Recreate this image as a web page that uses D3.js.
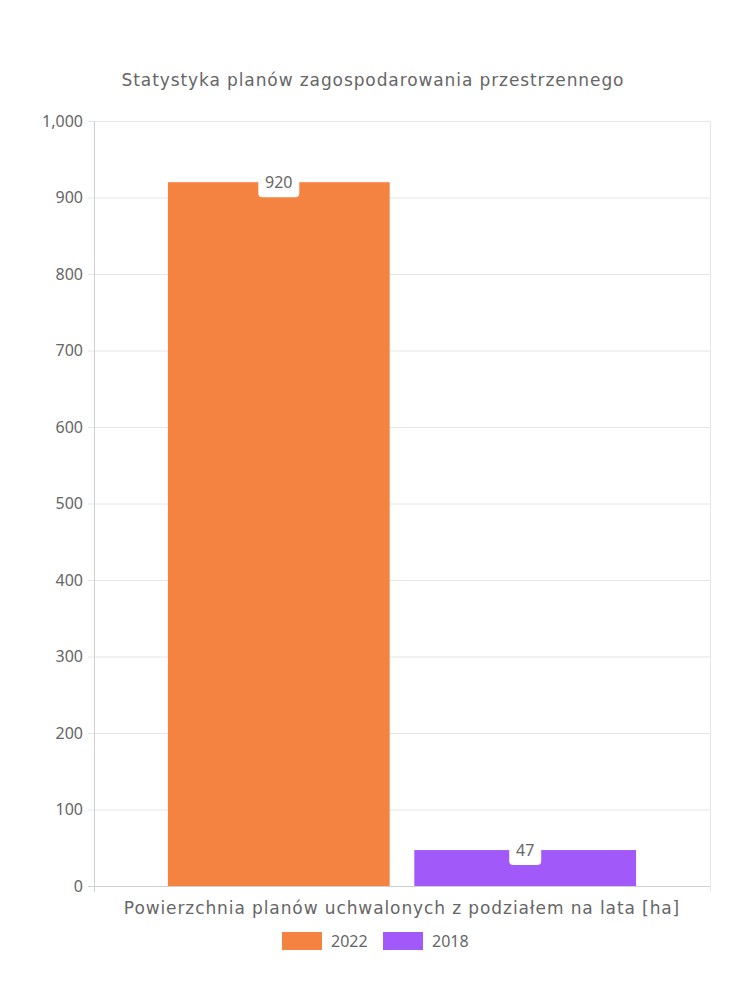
<!DOCTYPE html>
<html>
<head>
<meta charset="utf-8">
<script src="https://cdn.jsdelivr.net/npm/d3@7"></script>
<style>
  body { margin: 0; background: #fff; }
  text { font-family: "Noto Sans", sans-serif; fill: #666; }
  .wide { font-family: "DejaVu Sans", sans-serif; letter-spacing: 0.9px; }
</style>
</head>
<body>
<svg id="chart"></svg>
<script>
// chart data
const category = "Powierzchnia planów uchwalonych z podziałem na lata [ha]";
const seriesNames = ["2022", "2018"];
const seriesValues = [920, 47];
const seriesColors = ["#f48342", "#a259fa"];
const yTicks = [0, 100, 200, 300, 400, 500, 600, 700, 800, 900, 1000];

const width = 750, height = 1000;
const margin = { top: 121, right: 40, bottom: 114, left: 94 };

const svg = d3.select("#chart").attr("width", width).attr("height", height);

const x = d3.scaleBand()
  .domain([category])
  .range([margin.left, width - margin.right])
  .paddingInner(0).paddingOuter(0);

// grouped bars inside the category (80% category, 90% bar)
const inner = d3.scaleBand()
  .domain(seriesNames)
  .range([x(category) + x.bandwidth() * 0.1, x(category) + x.bandwidth() * 0.9])
  .paddingInner(0.1).paddingOuter(0.05);

const y = d3.scaleLinear().domain([0, 1000]).range([height - margin.bottom, margin.top]);

// grid
svg.append("g")
  .selectAll("line")
  .data(yTicks)
  .join("line")
  .attr("x1", margin.left - 6)
  .attr("x2", width - margin.right)
  .attr("y1", d => y(d) + 0.5)
  .attr("y2", d => y(d) + 0.5)
  .attr("stroke", "#e6e6e6");

svg.append("line")
  .attr("x1", width - margin.right + 0.5).attr("x2", width - margin.right + 0.5)
  .attr("y1", margin.top).attr("y2", height - margin.bottom + 6)
  .attr("stroke", "#e6e6e6");

// y axis
const yAxis = svg.append("g")
  .attr("transform", `translate(${margin.left},0)`)
  .call(d3.axisLeft(y).tickValues(yTicks).tickSize(6).tickFormat(d3.format(",")));
yAxis.select(".domain").remove();
yAxis.selectAll(".tick line").remove();
yAxis.selectAll(".tick text").attr("x", -11).attr("font-size", 16).style("fill", "#666");

svg.append("line")
  .attr("x1", margin.left + 0.5).attr("x2", margin.left + 0.5)
  .attr("y1", margin.top).attr("y2", height - margin.bottom + 6)
  .attr("stroke", "#cfcfcf");
svg.append("line")
  .attr("x1", margin.left - 6).attr("x2", width - margin.right)
  .attr("y1", y(0) + 0.5).attr("y2", y(0) + 0.5)
  .attr("stroke", "#cfcfcf");

// bars
const data = seriesNames.map((n, i) => ({ name: n, value: seriesValues[i], color: seriesColors[i] }));

svg.append("g")
  .selectAll("rect")
  .data(data)
  .join("rect")
  .attr("x", d => inner(d.name))
  .attr("width", inner.bandwidth())
  .attr("y", d => y(d.value))
  .attr("height", d => y(0) - y(d.value))
  .attr("fill", d => d.color);

// value labels
const labels = svg.append("g")
  .selectAll("g")
  .data(data)
  .join("g")
  .attr("transform", d => `translate(${inner(d.name) + inner.bandwidth() / 2},${y(d.value)})`);

labels.append("rect")
  .attr("x", d => d.value >= 100 ? -20.5 : -16)
  .attr("width", d => d.value >= 100 ? 41 : 32)
  .attr("y", -15)
  .attr("height", 30)
  .attr("rx", 4)
  .attr("fill", "#fff");

labels.append("text")
  .attr("text-anchor", "middle")
  .attr("dy", "0.35em")
  .attr("font-size", 16)
  .text(d => d.value);

// title
svg.append("text")
  .attr("class", "wide")
  .attr("x", 373)
  .attr("y", 86)
  .attr("text-anchor", "middle")
  .attr("font-size", 17)
  .text("Statystyka planów zagospodarowania przestrzennego");

// x category label
svg.append("text")
  .attr("class", "wide")
  .attr("x", x(category) + x.bandwidth() / 2)
  .attr("y", 914)
  .attr("text-anchor", "middle")
  .attr("font-size", 17)
  .text(category);

// legend
const legendX = [282, 383];
const legend = svg.append("g")
  .selectAll("g")
  .data(data)
  .join("g")
  .attr("transform", (d, i) => `translate(${legendX[i]},932)`);
legend.append("rect")
  .attr("width", 40).attr("height", 18)
  .attr("fill", d => d.color);
legend.append("text")
  .attr("x", 49).attr("y", 9).attr("dy", "0.35em")
  .attr("font-size", 16)
  .text(d => d.name);
</script>
</body>
</html>
